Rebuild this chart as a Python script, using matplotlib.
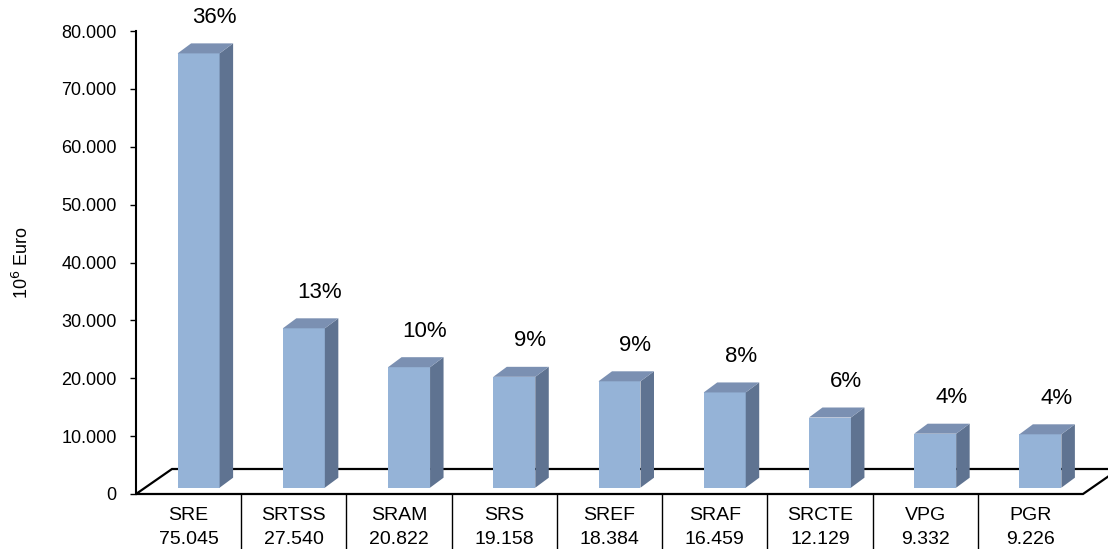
import matplotlib
matplotlib.use("Agg")
import matplotlib.pyplot as plt
from matplotlib.patches import Polygon

plt.rcParams['font.family'] = ['Liberation Sans', 'DejaVu Sans']

categories = ["SRE", "SRTSS", "SRAM", "SRS", "SREF", "SRAF", "SRCTE", "VPG", "PGR"]
values = [75045, 27540, 20822, 19158, 18384, 16459, 12129, 9332, 9226]
percents = ["36%", "13%", "10%", "9%", "9%", "8%", "6%", "4%", "4%"]
yticks = [0, 10000, 20000, 30000, 40000, 50000, 60000, 70000, 80000]

W, H = 1108, 549
fig = plt.figure(figsize=(W / 100, H / 100), dpi=100)
x0, x1 = 136, 1083
ytop, ybot = 31, 494
ax = fig.add_axes([x0 / W, (H - ybot) / H, (x1 - x0) / W, (ybot - ytop) / H])
n = len(categories)
ax.set_xlim(0, n)
ax.set_ylim(0, 80000)

px_x = n / (x1 - x0)          # category units per pixel
px_y = 80000 / (ybot - ytop)  # value units per pixel

# floor
fdx, fdy = 36 * px_x, 25 * px_y
floor = Polygon([(0, 0), (n, 0), (n + fdx, fdy), (fdx, fdy)], closed=True,
                facecolor='white', edgecolor='black', lw=1.6, clip_on=False, zorder=1)
ax.add_patch(floor)

# bars
front_c = '#95B3D7'
top_c = '#7B90B2'
side_c = '#5F7391'
off_x = 10 * px_x
half_w = 21 * px_x
base = 6.3 * px_y
ddx, ddy = 13.5 * px_x, 10 * px_y
for i, v in enumerate(values):
    c = i + 0.5 + off_x
    l, r = c - half_w, c + half_w
    b, t = base, base + v
    ax.add_patch(Polygon([(l, b), (r, b), (r, t), (l, t)], closed=True,
                         facecolor=front_c, edgecolor='none', clip_on=False, zorder=3))
    ax.add_patch(Polygon([(r, b), (r + ddx, b + ddy), (r + ddx, t + ddy), (r, t)], closed=True,
                         facecolor=side_c, edgecolor='none', clip_on=False, zorder=3))
    ax.add_patch(Polygon([(l, t), (r, t), (r + ddx, t + ddy), (l + ddx, t + ddy)], closed=True,
                         facecolor=top_c, edgecolor='none', clip_on=False, zorder=3))
    ax.text(i + 0.5 + 26 * px_x, t + 36 * px_y, percents[i], ha='center', va='center',
            fontsize=16, color='black', zorder=5, clip_on=False)

# axes styling
for s in ['top', 'right', 'bottom']:
    ax.spines[s].set_visible(False)
ax.spines['left'].set_linewidth(1.5)
ax.set_yticks(yticks)
ax.set_yticklabels([f"{t:,}".replace(",", ".") for t in yticks], fontsize=13)
ax.tick_params(axis='y', direction='out', length=4, width=1.0, pad=10)
ax.set_xticks([])
ax.set_facecolor('none')

# table below
for i in range(1, n):
    ax.plot([i, i], [0, -55 * px_y], color='black', lw=1.0, clip_on=False, zorder=2)
for i, (cat, v) in enumerate(zip(categories, values)):
    ax.text(i + 0.5, -21 * px_y, cat, ha='center', va='center', fontsize=14, clip_on=False)
    ax.text(i + 0.5, -45 * px_y, f"{v:,}".replace(",", "."), ha='center', va='center',
            fontsize=14, clip_on=False)

fig.text(22 / W, 1 - 263 / H, "10$^6$ Euro", rotation=90, ha='center', va='center', fontsize=13)

fig.savefig("out.png", dpi=100)
